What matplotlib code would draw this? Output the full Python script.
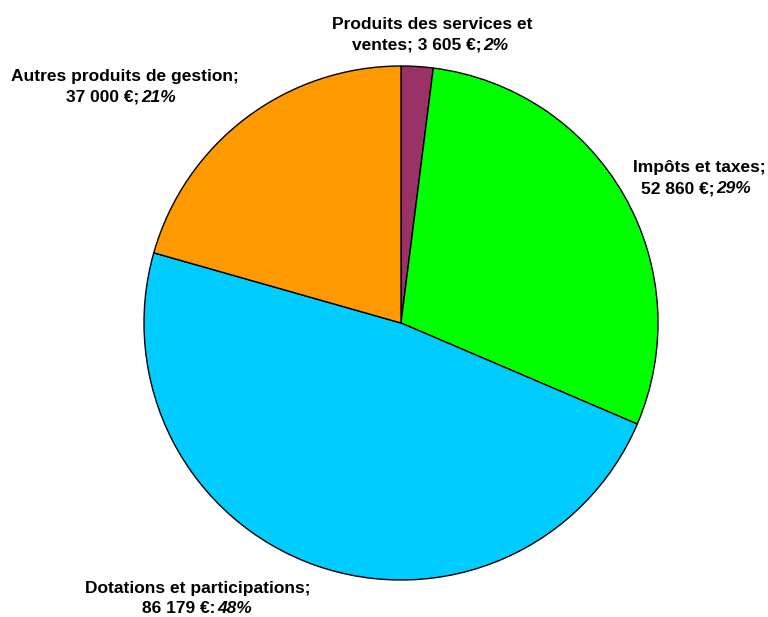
import matplotlib
matplotlib.use("Agg")
import matplotlib.pyplot as plt
from matplotlib.transforms import IdentityTransform

categories = ["Produits des services et\nventes", "Impôts et taxes", "Dotations et participations", "Autres produits de gestion"]
values = [3605, 52860, 86179, 37000]
value_labels = ["3 605 €", "52 860 €", "86 179 €", "37 000 €"]
name_seps = [";", ";", ";", ";"]
value_seps = [";", ";", ":", ";"]
colors = ["#993366", "#00FF00", "#00CCFF", "#FF9900"]

plt.rcParams["font.family"] = ["Liberation Sans", "DejaVu Sans"]

W, H = 768, 617
cx, cy, r = 401, 323, 257
fig = plt.figure(figsize=(W / 100, H / 100), dpi=100)
ax = fig.add_axes([(cx - r) / W, (H - cy - r) / H, 2 * r / W, 2 * r / H])
ax.pie(values, colors=colors, startangle=90, counterclock=False, radius=1,
       wedgeprops=dict(edgecolor="black", linewidth=1.0))
ax.set_xlim(-1, 1)
ax.set_ylim(-1, 1)
ax.set_aspect("auto")
ax.axis("off")

total = sum(values)
# label placement in pixels: (line1 centre x, line2 centre x, line1 baseline y, line2 baseline y)
label_pos = [(432, 430, 29, 50), (699, 696, 172, 193), (198, 197, 593, 613), (125, 121, 81, 102)]
FS = 12.5
renderer = fig.canvas.get_renderer()
tr = IdentityTransform()

for cat, val, vl, ns, vs, (x1, x2, b1, b2) in zip(categories, values, value_labels,
                                                  name_seps, value_seps, label_pos):
    pct = f"{round(100 * val / total)}%"
    lines = cat.split("\n")
    if len(lines) == 2:
        first = lines[0]
        partA = lines[1] + ns + " " + vl + vs
    else:
        first = lines[0] + ns
        partA = vl + vs
    partB = pct
    fig.text(x1, H - b1, first, transform=tr, ha="center", va="baseline",
             fontsize=FS, fontweight="bold")
    tA = fig.text(0, H - b2, partA, transform=tr, ha="left", va="baseline",
                  fontsize=FS, fontweight="bold")
    tB = fig.text(0, H - b2, partB, transform=tr, ha="left", va="baseline",
                  fontsize=FS, fontweight="bold", fontstyle="italic")
    wA = tA.get_window_extent(renderer).width
    wB = tB.get_window_extent(renderer).width
    gap = 2
    left = x2 - (wA + gap + wB) / 2
    tA.set_x(left)
    tB.set_x(left + wA + gap)

fig.savefig("out.png", dpi=100, facecolor="white")
